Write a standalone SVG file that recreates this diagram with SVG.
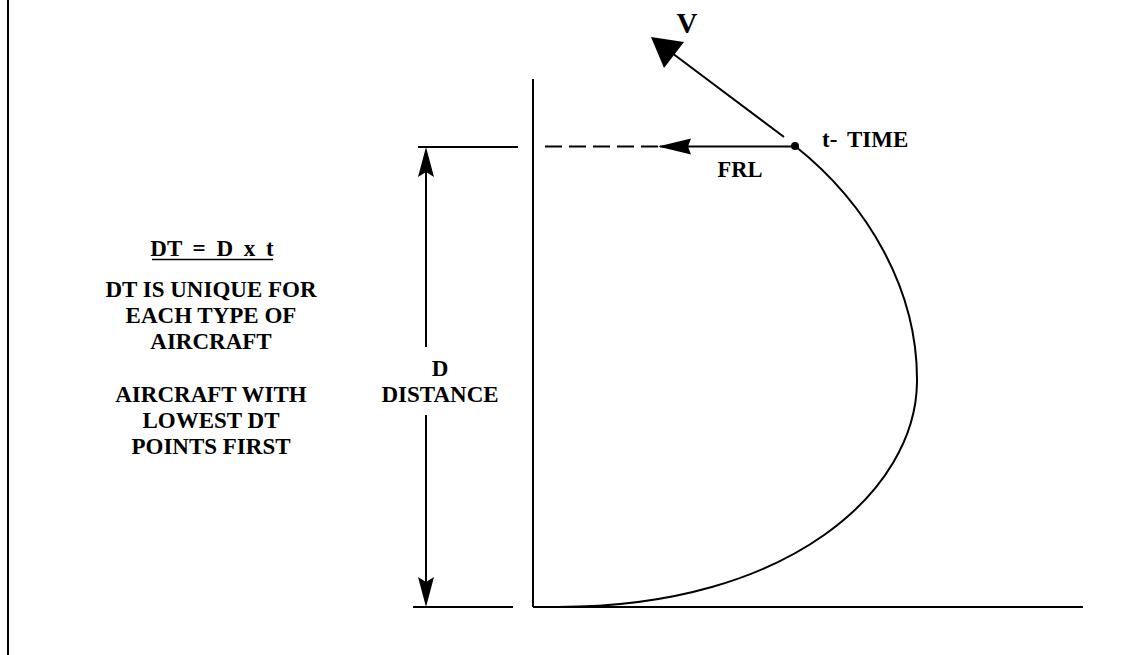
<svg xmlns="http://www.w3.org/2000/svg" width="1142" height="655" viewBox="0 0 1142 655">
<style>
.ln{stroke:#000;stroke-width:2;fill:none}
.txt{font-family:"Liberation Serif","Times New Roman",serif;font-weight:bold;fill:#000}
.lt{font-size:23px;text-anchor:middle}
</style>
<rect x="0" y="0" width="1142" height="655" fill="#fff"/>
<g id="frame">
<line class="ln" x1="8" y1="0" x2="8" y2="655"/>
</g>
<g id="axes">
<line class="ln" x1="533" y1="79" x2="533" y2="607"/>
<line class="ln" x1="533" y1="607" x2="1083" y2="607"/>
<line class="ln" x1="413" y1="607" x2="513" y2="607"/>
<line class="ln" x1="418" y1="147" x2="518" y2="147"/>
</g>
<g id="connectors">
<path id="trajectory" class="ln" d="M795,146 C868,204 918,290 917,382 C916,490 790,607 558,607"/>
<line class="ln" x1="545" y1="146.5" x2="660" y2="146.5" stroke-dasharray="17 7"/>
<line class="ln" x1="660" y1="146.5" x2="795" y2="146.5"/>
<polygon points="658,146.5 691,138.5 688,146.5 691,154.5" fill="#000"/>
<line class="ln" x1="784" y1="137" x2="672" y2="53"/>
<polygon points="651,37 684,42 664,68" fill="#000"/>
<line class="ln" x1="426" y1="170" x2="426" y2="347"/>
<line class="ln" x1="426" y1="415" x2="426" y2="585"/>
<polygon points="426,147 418,177 426,172 434,177" fill="#000"/>
<polygon points="426,607 418,577 426,582 434,577" fill="#000"/>
<circle cx="795" cy="146" r="4" fill="#000"/>
</g>
<g id="labels">
<text class="txt" x="687" y="33" font-size="29" text-anchor="middle">V</text>
<text class="txt" y="147" font-size="23"><tspan x="822">t-</tspan><tspan x="847">TIME</tspan></text>
<text class="txt" x="740" y="177" font-size="22.5" text-anchor="middle">FRL</text>
<text class="txt lt" x="440" y="376">D</text>
<text class="txt lt" x="440" y="402">DISTANCE</text>
</g>
<g id="notes">
<text class="txt lt" x="212" y="256" word-spacing="5">DT = D x t</text>
<line x1="152" y1="259.5" x2="273" y2="259.5" stroke="#000" stroke-width="1.6"/>
<text class="txt lt" x="211" y="297">DT IS UNIQUE FOR</text>
<text class="txt lt" x="211" y="323">EACH TYPE OF</text>
<text class="txt lt" x="211" y="349">AIRCRAFT</text>
<text class="txt lt" x="211" y="402">AIRCRAFT WITH</text>
<text class="txt lt" x="211" y="428">LOWEST DT</text>
<text class="txt lt" x="211" y="454">POINTS FIRST</text>
</g>
</svg>
